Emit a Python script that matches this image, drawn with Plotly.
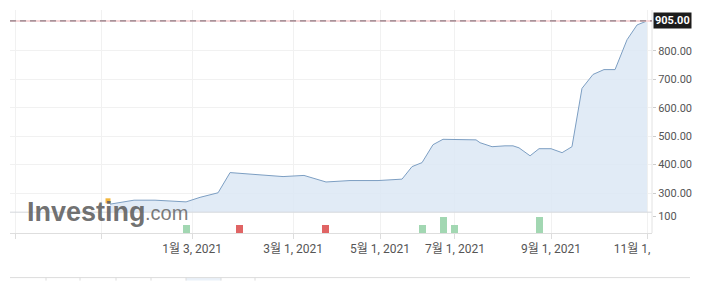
import plotly.graph_objects as go

# ---- data ----
session_pos = [0, 2.28, 4.27, 5.70, 7.22, 8.55, 10.26, 11.40, 12.35, 14.43, 16.43, 18.42,
               20.51, 22.79, 25.45, 27.73, 28.68, 29.63, 30.67, 31.62, 34.76, 35.14, 36.28,
               37.51, 38.27, 38.84, 39.89, 40.74, 41.88, 42.93, 43.87, 44.82, 45.87, 46.91,
               47.96, 49.10, 50.05, 51.00]
price = [261, 275, 275, 271, 269, 285, 301, 372, 369, 362, 358, 362,
         339, 344, 344, 349, 393, 407, 470, 489, 487, 477, 463,
         466, 466, 459, 431, 456, 456, 442, 463, 668, 717, 734,
         734, 839, 891, 905]
last_price = 905.00

vol_pos = [7.26, 12.30, 20.47, 29.63, 31.67, 32.72, 40.79]
vol_val = [47, 47, 47, 47, 94, 47, 94]
vol_up = [True, False, False, True, True, True, True]

x_tick_pos = [-9.02, -0.85, 7.79, 17.38, 25.64, 32.76, 41.88, 51.0]
x_tick_text = ["", "", "1월 3, 2021", "3월 1, 2021", "5월 1, 2021", "7월 1, 2021",
               "9월 1, 2021", "11월 1,\u00a0\u2007\u2007\u2007\u2007"]
y_tick_vals = [300, 400, 500, 600, 700, 800]
vol_tick_vals = [100]

FONT = "Roboto, 'Noto Sans CJK KR', sans-serif"
GRID = "#f1f1f1"
TXT = "#555555"

fig = go.Figure()
fig.add_trace(go.Scatter(
    x=session_pos, y=price, mode="lines",
    line=dict(color="#7c9ec2", width=1),
    fill="tozeroy", fillcolor="rgba(220,232,244,0.85)",
    xaxis="x", yaxis="y", hoverinfo="skip"))
fig.add_trace(go.Bar(
    x=vol_pos, y=vol_val, width=0.67,
    marker=dict(color=["#a2d7b2" if u else "#e06464" for u in vol_up], line=dict(width=0)),
    xaxis="x", yaxis="y2", hoverinfo="skip"))

W, H = 720, 281
L, R, T, B = 10, 652, 8, 233
split = 212
dom_split = (B - split) / (B - T)

fig.update_layout(
    width=W, height=H,
    margin=dict(l=L, r=W - R, t=T, b=H - B),
    paper_bgcolor="white", plot_bgcolor="white",
    showlegend=False,
    font=dict(family=FONT, color=TXT, size=12),
    xaxis=dict(range=[-9.5, 51.47], tickvals=x_tick_pos, ticktext=x_tick_text,
               showgrid=True, gridcolor=GRID, gridwidth=1, zeroline=False,
               ticks="outside", ticklen=5, tickcolor="#dddddd",
               showline=True, linecolor="#dedede", linewidth=1,
               tickfont=dict(size=12, color=TXT), anchor="y2"),
    yaxis=dict(domain=[dom_split, 1], range=[232.8, 943.5], side="right",
               tickvals=y_tick_vals, ticktext=[f"{v:.2f}" for v in y_tick_vals],
               showgrid=True, gridcolor=GRID, zeroline=False,
               ticks="outside", ticklen=3, tickcolor="#cccccc",
               tickfont=dict(size=11, color=TXT)),
    yaxis2=dict(domain=[0, dom_split], range=[0, 123.5], side="right",
                tickvals=vol_tick_vals, ticktext=["100"],
                showgrid=False, zeroline=False,
                ticks="outside", ticklen=3, tickcolor="#cccccc",
                tickfont=dict(size=11, color=TXT)),
    bargap=0,
)

def px_x(px):
    return (px - L) / (R - L)

def px_y(py):
    return (B - py) / (B - T)

shapes = []
# pane separator
shapes.append(dict(type="line", xref="paper", yref="paper", x0=0, x1=1,
                   y0=dom_split, y1=dom_split, line=dict(color="#d4d8dc", width=1)))
# right border
shapes.append(dict(type="line", xref="paper", yref="paper", x0=1, x1=1,
                   y0=0, y1=1, line=dict(color="#e2e2e2", width=1)))
# last price line
shapes.append(dict(type="line", xref="paper", yref="y", x0=0, x1=1,
                   y0=last_price, y1=last_price, line=dict(color="#f6d6d8", width=2)))
shapes.append(dict(type="line", xref="paper", yref="y", x0=0, x1=1,
                   y0=last_price, y1=last_price,
                   line=dict(color="#8f7f87", width=1.3, dash="6px,4px")))
# bottom toolbar remnant
shapes.append(dict(type="rect", xref="paper", yref="paper", x0=px_x(186), x1=px_x(221),
                   y0=px_y(281), y1=px_y(278), fillcolor="#eaf1f9", line=dict(width=0)))
shapes.append(dict(type="line", xref="paper", yref="paper", x0=0, x1=px_x(690),
                   y0=px_y(278), y1=px_y(278), line=dict(color="#dcdcdc", width=1)))
for sx in [46, 80, 116, 151, 186, 221, 255]:
    shapes.append(dict(type="line", xref="paper", yref="paper", x0=px_x(sx), x1=px_x(sx),
                       y0=px_y(278), y1=px_y(281), line=dict(color="#dcdcdc", width=1)))
fig.update_layout(shapes=shapes)

annotations = [
    dict(xref="paper", yref="y", x=1, y=last_price, xanchor="left", yanchor="middle",
         xshift=1, text="<b>905.00</b>", showarrow=False, bgcolor="#1c1c1c",
         font=dict(color="white", size=11, family=FONT), borderpad=1),
    dict(xref="paper", yref="paper", x=px_x(25), y=px_y(212), xanchor="left", yanchor="middle",
         text="<b>Investing</b>", showarrow=False,
         font=dict(family="Liberation Sans, Arial, sans-serif", size=27, color="rgba(100,100,100,0.92)")),
    dict(xref="paper", yref="paper", x=px_x(143), y=px_y(213), xanchor="left", yanchor="middle",
         text=".com", showarrow=False,
         font=dict(family="Liberation Sans, Arial, sans-serif", size=20, color="rgba(110,110,110,0.92)")),
]
fig.update_layout(annotations=annotations)

# orange accent on the logo's "i"
fig.add_shape(type="rect", xref="paper", yref="paper",
              x0=px_x(105.5), x1=px_x(110.5), y0=px_y(203), y1=px_y(198),
              fillcolor="#f2b63c", line=dict(width=0), layer="above")

fig.write_html("out.html")
